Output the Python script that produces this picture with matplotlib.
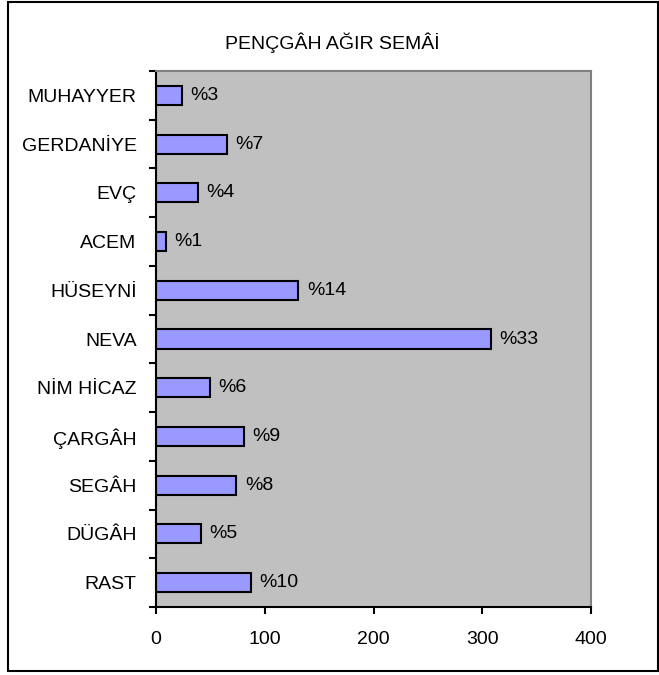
import matplotlib.pyplot as plt
from matplotlib.patches import Rectangle

makams = ['RAST', 'DÜGÂH', 'SEGÂH', 'ÇARGÂH', 'NİM HİCAZ', 'NEVA',
          'HÜSEYNİ', 'ACEM', 'EVÇ', 'GERDANİYE', 'MUHAYYER']
counts = [87, 41, 74, 81, 50, 308, 131, 9, 39, 65, 24]
pct_labels = ['%10', '%5', '%8', '%9', '%6', '%33', '%14', '%1', '%4', '%7', '%3']
x_ticks = [0, 100, 200, 300, 400]

plt.rcParams['font.family'] = ['Liberation Sans', 'DejaVu Sans']
fs = 14

fig = plt.figure(figsize=(6.59, 6.75), dpi=100)
ax = fig.add_axes([156 / 659, 1 - 607 / 675, (591 - 156) / 659, (607 - 71) / 675])
ax.set_facecolor('#c0c0c0')

pos = list(range(len(makams)))
ax.barh(pos, counts, height=0.39, color='#9999ff', edgecolor='black', linewidth=1.5)
for p, c, lab in zip(pos, counts, pct_labels):
    ax.annotate(lab, xy=(c, p), xytext=(6, 0), textcoords='offset points',
                va='center', ha='left', fontsize=fs)

ax.set_xlim(0, 400)
ax.set_ylim(-0.5, len(makams) - 0.5)
ax.set_xticks(x_ticks)
ax.set_xticklabels([str(t) for t in x_ticks], fontsize=fs)
ax.set_yticks([p - 0.5 for p in pos] + [len(makams) - 0.5])
ax.set_yticklabels([])
ax.set_yticks(pos, minor=True)
ax.set_yticklabels(makams, minor=True, fontsize=fs)
ax.tick_params(axis='y', which='major', direction='out', length=5, width=1.5)
ax.tick_params(axis='y', which='minor', length=0, pad=14)
ax.tick_params(axis='x', direction='out', length=5, width=1.5, pad=12)

for side in ['left', 'bottom']:
    ax.spines[side].set_color('black')
    ax.spines[side].set_linewidth(1.5)
for side in ['top', 'right']:
    ax.spines[side].set_color('#808080')
    ax.spines[side].set_linewidth(1.5)

fig.text(332 / 659, 1 - 43 / 675, 'PENÇGÂH AĞIR SEMÂİ', ha='center', va='center', fontsize=fs)

fig.patches.append(Rectangle((8 / 659, 1 - 671 / 675), 650 / 659, 669 / 675,
                             transform=fig.transFigure, fill=False,
                             edgecolor='black', linewidth=1.5))

fig.savefig('out.png', dpi=100)
